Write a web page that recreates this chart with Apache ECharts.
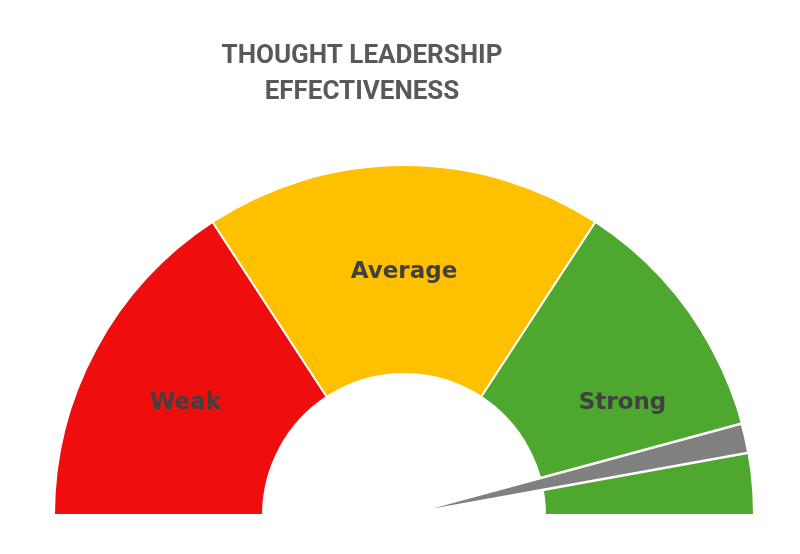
<!DOCTYPE html>
<html>
<head>
<meta charset="utf-8">
<script src="https://cdn.jsdelivr.net/npm/echarts@6/dist/echarts.min.js"></script>
<style>
html,body{margin:0;padding:0;background:#fff;}
#chart{width:800px;height:554px;}
</style>
</head>
<body>
<div id="chart"></div>
<script>
// Data
var titleText = 'THOUGHT LEADERSHIP\nEFFECTIVENESS';
var bandNames = ['Weak', 'Average', 'Strong'];
var bandValues = [30, 35, 30];
var bandColors = ['#f00d0d', '#ffc000', '#4ea72e'];
var needleValue = 87;     // position of the pointer on the 0..95 scale
var needleWidth = 2.6;    // pointer thickness in the same units

var total = bandValues.reduce(function (a, b) { return a + b; }, 0);
var hiddenHalf = total;   // invisible lower half of the donut

var bandData = bandNames.map(function (n, i) {
  return { name: n, value: bandValues[i], itemStyle: { color: bandColors[i] } };
});
bandData.push({ name: 'hidden', value: hiddenHalf,
  itemStyle: { color: 'rgba(0,0,0,0)', borderWidth: 0 },
  label: { show: false } });

var needleData = [
  { name: 'before', value: needleValue, itemStyle: { color: 'rgba(0,0,0,0)', borderWidth: 0 } },
  { name: 'needle', value: needleWidth, itemStyle: { color: '#808080' } },
  { name: 'after', value: 2 * total - needleValue - needleWidth, itemStyle: { color: 'rgba(0,0,0,0)', borderWidth: 0 } }
];

var chart = echarts.init(document.getElementById('chart'), null, { renderer: 'canvas' });
chart.setOption({
  animation: false,
  backgroundColor: '#ffffff',
  title: {
    text: titleText,
    left: 362,
    top: 38,
    padding: 0,
    textAlign: 'center',
    textStyle: {
      fontFamily: 'Roboto',
      fontWeight: 'bold',
      fontSize: 26,
      lineHeight: 36,
      color: '#595959'
    }
  },
  series: [
    {
      type: 'pie',
      silent: true,
      center: [404, 515],
      radius: [141, 350],
      startAngle: 180,
      clockwise: true,
      avoidLabelOverlap: false,
      itemStyle: { borderColor: '#ffffff', borderWidth: 2 },
      label: {
        show: true,
        position: 'inside',
        formatter: '{b}',
        fontFamily: 'DejaVu Sans',
        fontWeight: 'bold',
        fontSize: 23,
        color: '#404040',
        offset: [0, 6]
      },
      labelLine: { show: false },
      emphasis: { disabled: true },
      data: bandData
    },
    {
      type: 'pie',
      silent: true,
      center: [404, 515],
      radius: [0, 350],
      startAngle: 180,
      clockwise: true,
      itemStyle: { borderColor: '#ffffff', borderWidth: 2.5 },
      label: { show: false },
      labelLine: { show: false },
      emphasis: { disabled: true },
      data: needleData
    }
  ]
});
</script>
</body>
</html>
